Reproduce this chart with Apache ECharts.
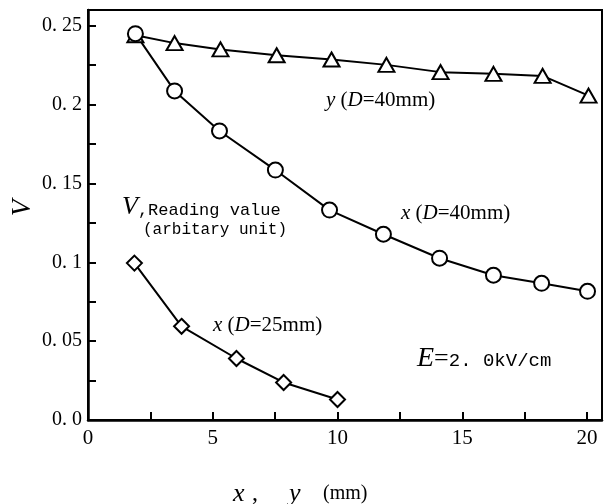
<!DOCTYPE html>
<html>
<head>
<meta charset="utf-8">
<script src="https://cdn.jsdelivr.net/npm/echarts@6/dist/echarts.min.js"></script>
<style>html,body{margin:0;padding:0;background:#fff;}#c{width:608px;height:504px;}</style>
</head>
<body>
<div id="c"></div>
<script>
// y (D=40mm) — triangles
var yD40_x = [1.90, 3.47, 5.31, 7.56, 9.76, 11.96, 14.13, 16.25, 18.22, 20.06];
var yD40_v = [0.244, 0.239, 0.235, 0.2313, 0.2286, 0.2252, 0.2206, 0.2195, 0.2182, 0.2057];
// x (D=40mm) — circles
var xD40_x = [1.90, 3.47, 5.27, 7.51, 9.68, 11.84, 14.09, 16.25, 18.18, 20.02];
var xD40_v = [0.245, 0.2087, 0.1833, 0.1585, 0.1331, 0.1178, 0.1026, 0.0918, 0.0867, 0.0816];
// x (D=25mm) — diamonds
var xD25_x = [1.86, 3.75, 5.95, 7.84, 10.0];
var xD25_v = [0.0995, 0.0594, 0.039, 0.0238, 0.013];
// axis tick labels
var yTickLabels = {"0": "0. 0", "0.05": "0. 05", "0.1": "0. 1", "0.15": "0. 15", "0.2": "0. 2", "0.25": "0. 25"};

function pairs(xs, vs) { return xs.map(function (x, i) { return [x, vs[i]]; }); }

var chart = echarts.init(document.getElementById('c'), null, {renderer: 'canvas'});
var serif = 'Liberation Serif';
var mono = 'Liberation Mono';
var common = {
  type: 'line',
  symbolSize: 15,
  lineStyle: {color: '#000', width: 2},
  itemStyle: {color: '#fff', borderColor: '#000', borderWidth: 2},
  emphasis: {disabled: true},
  animation: false,
  z: 3
};
var ital = {fontFamily: serif, fontStyle: 'italic', fontSize: 21, fill: '#000'};
chart.setOption({
  animation: false,
  backgroundColor: '#fff',
  grid: {left: 88, top: 10, right: 6, bottom: 84, show: true, borderColor: '#000', borderWidth: 2},
  xAxis: {
    type: 'value', min: 0, max: 20.6, interval: 5,
    axisLine: {show: true, onZero: false, lineStyle: {color: '#000', width: 2.5}},
    axisTick: {show: true, inside: true, length: 8, lineStyle: {color: '#000', width: 2}},
    minorTick: {show: true, splitNumber: 2, length: 8, lineStyle: {color: '#000', width: 2}},
    splitLine: {show: false},
    axisLabel: {showMaxLabel: false, color: '#000', fontFamily: serif, fontSize: 21, margin: 8}
  },
  yAxis: {
    type: 'value', min: 0, max: 0.26, interval: 0.05,
    axisLine: {show: true, lineStyle: {color: '#000', width: 2.5}},
    axisTick: {show: true, inside: true, length: 8, lineStyle: {color: '#000', width: 2}},
    minorTick: {show: true, splitNumber: 2, length: 8, lineStyle: {color: '#000', width: 2}},
    splitLine: {show: false},
    axisLabel: {
      showMaxLabel: false, color: '#000', fontFamily: serif, fontSize: 20, margin: 6,
      formatter: function (v) { var k = String(Math.round(v * 100) / 100); return yTickLabels[k] !== undefined ? yTickLabels[k] : ''; }
    }
  },
  series: [
    Object.assign({}, common, {name: 'yD40', symbol: 'triangle', symbolSize: [16, 14], data: pairs(yD40_x, yD40_v)}),
    Object.assign({}, common, {name: 'xD40', symbol: 'circle', symbolSize: 15, data: pairs(xD40_x, xD40_v)}),
    Object.assign({}, common, {name: 'xD25', symbol: 'diamond', symbolSize: [15, 15], data: pairs(xD25_x, xD25_v)})
  ],
  graphic: [
    {type: 'text', x: 326, y: 100, style: {text: '{i|y} ({i|D}=40mm)', fontFamily: serif, fontSize: 21, fill: '#000', verticalAlign: 'middle', rich: {i: ital}}},
    {type: 'text', x: 401, y: 213, style: {text: '{i|x} ({i|D}=40mm)', fontFamily: serif, fontSize: 21, fill: '#000', verticalAlign: 'middle', rich: {i: ital}}},
    {type: 'text', x: 213, y: 325, style: {text: '{i|x} ({i|D}=25mm)', fontFamily: serif, fontSize: 21, fill: '#000', verticalAlign: 'middle', rich: {i: ital}}},
    {type: 'text', x: 122, y: 207, style: {text: '{v|V}{m|,Reading value}', fill: '#000', verticalAlign: 'middle', rich: {v: {fontFamily: serif, fontStyle: 'italic', fontSize: 26, fill: '#000'}, m: {fontFamily: mono, fontSize: 17, fill: '#000', padding: [6, 0, 0, 0]}}}},
    {type: 'text', x: 143, y: 230, style: {text: '(arbitary unit)', fontFamily: mono, fontSize: 16, fill: '#000', verticalAlign: 'middle'}},
    {type: 'text', x: 417, y: 359, style: {text: '{e|E}{q|=}{m|2. 0kV/cm}', fill: '#000', verticalAlign: 'middle', rich: {e: {fontFamily: serif, fontStyle: 'italic', fontSize: 28, fill: '#000'}, q: {fontFamily: serif, fontSize: 26, fill: '#000'}, m: {fontFamily: mono, fontSize: 19, fill: '#000', padding: [3, 0, 0, 0]}}}},
    {type: 'text', x: 233, y: 494, style: {text: 'x', fontFamily: serif, fontStyle: 'italic', fontSize: 26, fill: '#000', verticalAlign: 'middle'}},
    {type: 'text', x: 252, y: 494, style: {text: ',', fontFamily: serif, fontSize: 24, fill: '#000', verticalAlign: 'middle'}},
    {type: 'text', x: 289, y: 494, style: {text: 'y', fontFamily: serif, fontStyle: 'italic', fontSize: 26, fill: '#000', verticalAlign: 'middle'}},
    {type: 'text', x: 323, y: 494, style: {text: '(mm)', fontFamily: serif, fontSize: 20, fill: '#000', verticalAlign: 'middle'}},
    {type: 'text', x: 23, y: 208, rotation: Math.PI / 2, style: {text: 'V', fontFamily: serif, fontStyle: 'italic', fontSize: 27, fill: '#000', align: 'center', verticalAlign: 'middle'}}
  ]
});
</script>
</body>
</html>
